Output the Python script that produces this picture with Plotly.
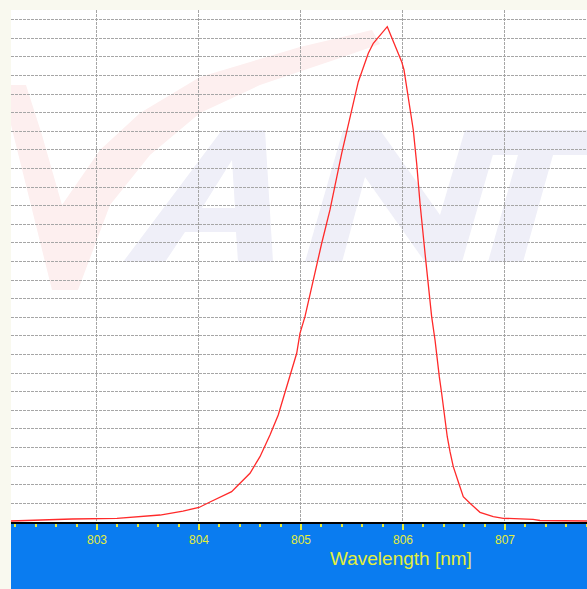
import plotly.graph_objects as go

# ---------------- data ----------------
wavelength_nm = [802.157, 802.294, 802.755, 803.196, 803.500, 803.618, 803.843, 804.000,
                 804.108, 804.222, 804.320, 804.385, 804.500, 804.598, 804.696, 804.777,
                 804.860, 804.909, 804.958, 804.990, 805.039, 805.203, 805.284, 805.399,
                 805.480, 805.562, 805.660, 805.709, 805.846, 805.987, 806.010, 806.036,
                 806.101, 806.134, 806.167, 806.216, 806.248, 806.281, 806.314, 806.330,
                 806.356, 806.379, 806.412, 806.434, 806.461, 806.493, 806.542, 806.591,
                 806.657, 806.755, 806.885, 806.983, 807.275, 807.343, 807.804]
intensity_counts = [108, 160, 320, 380, 590, 750, 1180, 1560,
                    2150, 2720, 3260, 3980, 5240, 7020, 9350, 11500,
                    14550, 16160, 18140, 20290, 22080, 29970, 33550, 39645,
                    43580, 47345, 50400, 51475, 53260, 49495, 48600, 46810,
                    42150, 38570, 34270, 28890, 25300, 22080, 19570, 17775,
                    15625, 13840, 10970, 9170, 7560, 5950, 4330, 2720,
                    2010, 1040, 570, 400, 290, 160, 108]
x_ticks = [803, 804, 805, 806, 807]
x_tick_labels = ["803", "804", "805", "806", "807"]
x_title = "Wavelength [nm]"

# ---------------- layout geometry ----------------
W, H = 587, 589
ML, MR, MT, MB = 11, 0, 10, 67
PW, PH = W - ML - MR, H - MT - MB

YELLOW = "#e4ee3c"
BLUE = "#0a7cf0"
CREAM = "#f9f9ef"
GRID = "#a6a6a6"


def px_path(pts_list):
    """Convert pixel polygons (watermark decoration) to a paper-coord SVG path."""
    out = []
    for pts in pts_list:
        seg = []
        for i, (px, py) in enumerate(pts):
            xp = (px - ML) / PW
            yp = (H - MB - py) / PH
            seg.append(("M" if i == 0 else "L") + f"{xp:.4f},{yp:.4f}")
        out.append(" ".join(seg) + " Z")
    return " ".join(out)


# faint logo watermark shapes (pixel outlines)
wm_v = [[(11, 85), (26, 85), (42, 135), (62, 205), (100, 150), (140, 113), (200, 77),
         (300, 47), (372, 30), (380, 44), (340, 58), (260, 85), (200, 113), (150, 155),
         (110, 205), (78, 290), (52, 290), (11, 125)]]
wm_a = [[(123, 262), (222, 130), (265, 130), (273, 262), (238, 262), (236, 232),
         (185, 232), (165, 262)],
        [(202, 208), (235, 208), (232, 160)]]
wm_n = [[(305, 262), (343, 130), (380, 130), (440, 215), (465, 130), (500, 130),
         (462, 262), (425, 262), (365, 177), (342, 262)]]
wm_t = [[(497, 130), (610, 130), (603, 155), (553, 155), (523, 262), (488, 262),
         (518, 155), (490, 155)]]

fig = go.Figure()
fig.add_trace(go.Scatter(
    x=wavelength_nm, y=intensity_counts, mode="lines",
    line=dict(color="#ff2a2a", width=1.3), hoverinfo="x+y", showlegend=False,
))

shapes = [
    dict(type="rect", xref="paper", yref="paper", x0=0, x1=1, y0=-MB / PH, y1=0,
         fillcolor=BLUE, line=dict(width=0), layer="below"),
    dict(type="path", xref="paper", yref="paper", path=px_path(wm_v),
         fillcolor="#fdefef", line=dict(width=0), layer="below"),
    dict(type="path", xref="paper", yref="paper", path=px_path(wm_a),
         fillcolor="#efeff8", line=dict(width=0), layer="below"),
    dict(type="path", xref="paper", yref="paper", path=px_path(wm_n),
         fillcolor="#efeff8", line=dict(width=0), layer="below"),
    dict(type="path", xref="paper", yref="paper", path=px_path(wm_t),
         fillcolor="#efeff8", line=dict(width=0), layer="below"),
]

fig.update_layout(
    width=W, height=H,
    margin=dict(l=ML, r=MR, t=MT, b=MB, pad=0),
    paper_bgcolor=CREAM,
    plot_bgcolor="#ffffff",
    shapes=shapes,
    showlegend=False,
    font=dict(family="Liberation Sans, Arial, sans-serif"),
    xaxis=dict(
        range=[802.157, 807.804],
        tickmode="array", tickvals=x_ticks, ticktext=x_tick_labels,
        ticks="outside", ticklen=6, tickwidth=1.5, tickcolor=YELLOW,
        tickfont=dict(color=YELLOW, size=12),
        minor=dict(dtick=0.2, ticks="outside", ticklen=3, tickwidth=1.5,
                   tickcolor=YELLOW, showgrid=False),
        showgrid=True, gridcolor=GRID, gridwidth=1, griddash="3px,1px",
        showline=True, linecolor="#000000", linewidth=2,
        zeroline=False, fixedrange=True,
    ),
    yaxis=dict(
        range=[0, 55050], dtick=2000, tick0=0,
        showticklabels=False, ticks="",
        showgrid=True, gridcolor=GRID, gridwidth=1, griddash="3px,1px",
        showline=False, zeroline=False, fixedrange=True,
    ),
    annotations=[dict(
        text=x_title, xref="paper", yref="paper",
        x=(401 - ML) / PW, y=-(558 - (H - MB)) / PH,
        xanchor="center", yanchor="middle", showarrow=False,
        font=dict(color=YELLOW, size=19, family="Liberation Sans, Arial, sans-serif"),
    )],
)

fig.write_html(
    "out.html",
    config={"displayModeBar": False},
    post_script=(
        "document.body.style.margin='0';"
        "document.body.style.padding='0';"
        "document.body.style.overflow='hidden';"
        f"document.body.style.background='{CREAM}';"
    ),
)
